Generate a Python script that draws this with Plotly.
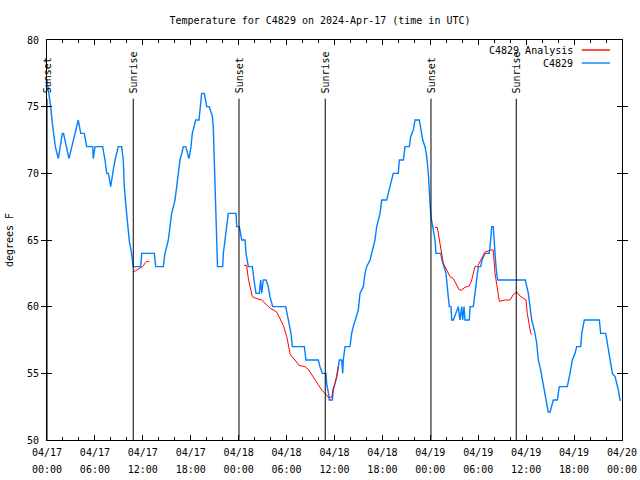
import plotly.graph_objects as go

# ---- data (hours since 2024-04-17 00:00 UTC, temperature in F) ----
obs_hours = [0.0, 0.25, 0.46, 0.66, 0.88, 1.04, 1.42, 1.92, 2.07, 2.75, 3.92, 4.22, 4.67, 4.97,
             5.72, 5.80, 6.01, 6.97, 7.26, 7.48, 7.68, 7.98, 8.23, 8.52, 8.93, 9.35, 9.55, 9.68,
             9.89, 10.11, 10.31, 10.52, 10.73, 10.81, 11.73, 11.86, 13.44, 13.61, 14.56, 14.78,
             15.19, 15.40, 15.61, 15.82, 16.03, 16.24, 16.44, 16.65, 16.87, 17.07, 17.37, 17.78,
             18.03, 18.19, 18.41, 18.62, 19.03, 19.16, 19.32, 19.37, 19.70, 19.87, 20.00, 20.32,
             20.54, 20.70, 20.82, 20.91, 21.04, 21.16, 21.33, 21.35, 22.00, 22.08, 22.29, 22.50,
             22.70, 23.67, 23.75, 24.08, 24.23, 24.39, 24.80, 24.92, 25.21, 25.71, 25.92, 26.17,
             26.58, 26.76, 26.88, 27.08, 27.42, 27.71, 27.92, 28.26, 29.89, 30.14, 30.34, 30.55,
             30.72, 32.22, 32.43, 33.97, 34.18, 34.47, 34.94, 35.02, 35.22, 35.35, 35.73, 35.85,
             36.06, 36.28, 36.48, 36.60, 36.90, 37.03, 37.10, 37.32, 37.94, 38.15, 38.35, 38.57,
             38.98, 39.19, 39.61, 39.82, 40.03, 40.45, 40.66, 40.86, 41.07, 41.28, 41.49, 41.70,
             41.91, 42.54, 42.74, 42.95, 43.36, 43.99, 44.11, 44.62, 44.83, 45.37, 45.54, 45.87,
             46.08, 46.62, 46.80, 47.05, 47.33, 47.55, 47.75, 47.83, 47.96, 48.08, 48.30, 48.59,
             48.71, 49.30, 49.50, 49.71, 49.96, 50.12, 50.30, 50.37, 50.59, 50.68, 50.88, 51.21,
             51.50, 51.71, 51.93, 52.05, 52.22, 52.34, 52.88, 52.97, 53.38, 53.59, 53.81, 54.01,
             54.31, 54.47, 54.85, 55.38, 55.56, 55.68, 55.88, 56.01, 56.19, 56.31, 56.44, 59.89,
             60.07, 60.27, 60.48, 60.69, 60.90, 61.11, 61.32, 61.52, 61.73, 61.95, 62.24, 62.48,
             62.77, 62.99, 63.20, 63.40, 63.90, 64.15, 65.15, 65.28, 65.49, 65.78, 66.12, 66.33,
             66.83, 66.96, 67.16, 67.28, 69.16, 69.33, 69.96, 70.17, 70.42, 70.63, 70.79, 71.13,
             71.34, 71.54, 71.75, 71.88]
obs_temps = [77, 76, 75, 73.8, 72.5, 72, 71.1, 73, 73, 71.1, 74, 73, 73, 72,
             72, 71.1, 72, 72, 71, 70, 70, 69, 70, 71, 72, 72, 71, 69,
             67.5, 66, 64.9, 64.25, 63.1, 63, 63, 64, 64, 63, 63, 64,
             65, 66.25, 67, 67.5, 68, 69, 70, 71, 71.5, 72, 72, 71.1,
             72, 73, 73.5, 74, 74, 74.9, 75.5, 76, 76, 75.5, 75, 75,
             74.6, 74.3, 73.5, 71.5, 68.5, 66, 64, 63, 63, 64, 65, 66.3,
             67, 67, 66, 66, 65.5, 65, 65, 64, 63, 63, 62, 61,
             61, 62, 61, 62, 62, 61.5, 60.75, 60, 60, 59.25, 58.5, 58,
             57, 57, 56, 56, 55.5, 55, 55, 54.25, 53.6, 53, 53, 53.75,
             54.25, 54.75, 55.5, 56, 56, 55, 56, 57, 57, 58, 58.5, 59,
             59.75, 61, 61.5, 62.5, 63, 63.5, 64, 64.5, 65, 66, 66.5, 67,
             68, 68, 68.5, 69, 70, 70, 71, 71, 72, 72, 72.75, 73.25,
             74, 74, 73.25, 72.5, 72, 71.25, 70, 68.5, 67.75, 66.75, 66, 65,
             64, 64, 63.4, 63, 62.5, 61.5, 60.5, 60, 60, 59, 59, 59.5,
             60, 59, 60, 59, 60, 59, 59, 60, 60, 61, 62, 63,
             63, 63.5, 64, 64, 65, 66, 66, 64.5, 63.25, 62.5, 62, 62,
             61.5, 61, 60, 59, 58.5, 58, 57.25, 56, 55.5, 54.75, 53.75, 53,
             52.1, 52.1, 52.6, 53, 53, 54, 54, 54.5, 55, 56, 56.5, 57,
             57, 58, 58.75, 59, 59, 58, 58, 57.25, 56.5, 55.75, 55, 54.75,
             54.25, 53.75, 53, 53]

# analysis series (None separates the three runs)
ana_hours = [10.81, 11.23, 11.65, 11.98, 12.27, 12.48, 12.81, None,
             24.67, 25.00, 25.21, 25.42, 25.71, 26.26, 26.88, 27.30, 27.92, 28.76, 29.18,
             29.59, 30.02, 30.22, 30.43, 30.64, 31.06, 31.56, 32.31, 32.72, 33.15, 33.56,
             33.97, 34.40, 34.81, 35.22, 35.65, 35.85, 36.06, 36.28, 36.48, None,
             48.59, 48.87, 49.00, 49.21, 49.42, 49.62, 50.05, 50.46, 50.88, 51.30, 51.63,
             51.93, 52.34, 52.88, 53.18, 53.38, 53.59, 53.88, 54.35, 54.85, 55.56, 55.88,
             56.10, 56.38, 56.64, 57.35, 57.98, 58.39, 58.82, 59.23, 59.73, 59.98, 60.14,
             60.39, 60.57, 60.77]
ana_temps = [62.6, 62.75, 62.9, 63.0, 63.25, 63.4, 63.4, None,
             63.1, 63.1, 62.1, 61.5, 60.75, 60.6, 60.5, 60.25, 59.9, 59.6, 59.1,
             58.6, 57.75, 57.25, 56.5, 56.25, 56.0, 55.6, 55.5, 55.3, 54.9, 54.5,
             54.1, 53.75, 53.5, 53.2, 53.2, 53.9, 54.25, 54.75, 55.5, None,
             65.95, 65.95, 65.5, 64.75, 64.0, 63.25, 62.75, 62.25, 62.1, 61.6, 61.25,
             61.25, 61.45, 61.55, 62.0, 62.5, 63.0, 63.0, 63.5, 64.1, 64.25, 64.25,
             62.5, 61.25, 60.4, 60.5, 60.5, 60.9, 61.1, 60.8, 60.6, 60.5, 59.5,
             58.75, 58.0, 57.9]

sun_hours = [0.0, 10.8, 24.04, 34.84, 48.08, 58.76]
sun_labels = ["Sunset", "Sunrise", "Sunset", "Sunrise", "Sunset", "Sunrise"]
sun_line_top = 75.6
sun_label_base = 75.85

tick_hours = [0, 6, 12, 18, 24, 30, 36, 42, 48, 54, 60, 66, 72]
tick_dates = ["04/17", "04/17", "04/17", "04/17", "04/18", "04/18", "04/18", "04/18",
              "04/19", "04/19", "04/19", "04/19", "04/20"]
tick_times = ["00:00", "06:00", "12:00", "18:00", "00:00", "06:00", "12:00", "18:00",
              "00:00", "06:00", "12:00", "18:00", "00:00"]
y_ticks = [50, 55, 60, 65, 70, 75, 80]

series_names = ["C4829 Analysis", "C4829"]
series_colors = ["#ff0000", "#0080ff"]

FONT = dict(family="DejaVu Sans Mono", size=10, color="black")

fig = go.Figure()
fig.add_trace(go.Scatter(x=ana_hours, y=ana_temps, mode="lines", name=series_names[0],
                         line=dict(color=series_colors[0], width=1), connectgaps=False,
                         showlegend=False, xaxis="x2"))
fig.add_trace(go.Scatter(x=obs_hours, y=obs_temps, mode="lines", name=series_names[1],
                         line=dict(color=series_colors[1], width=1.4), showlegend=False))

shapes = []
annotations = []
for h, lab in zip(sun_hours, sun_labels):
    shapes.append(dict(type="line", xref="x", yref="y", x0=h, x1=h, y0=50, y1=sun_line_top,
                       line=dict(color="black", width=1)))
    annotations.append(dict(x=h, y=sun_label_base, xref="x", yref="y", text=lab,
                            textangle=-90, showarrow=False, xanchor="center",
                            yanchor="bottom", font=FONT))

# gnuplot-style key (text right-aligned, sample on the right)
key_rows = [0.975, 0.9425]
for name, col, ky in zip(series_names, series_colors, key_rows):
    annotations.append(dict(x=0.9175, y=ky, xref="paper", yref="paper", text=name,
                            showarrow=False, xanchor="right", yanchor="middle", font=FONT))
    shapes.append(dict(type="line", xref="paper", yref="paper", x0=0.930, x1=0.979,
                       y0=ky, y1=ky, line=dict(color=col, width=1.4)))

# y-axis title
annotations.append(dict(x=-0.066, y=0.5, xref="paper", yref="paper", text="degrees F",
                        textangle=-90, showarrow=False, xanchor="center", yanchor="middle",
                        font=FONT))

fig.update_layout(
    width=640, height=480,
    margin=dict(l=47, r=18, t=40, b=40, autoexpand=False),
    paper_bgcolor="white", plot_bgcolor="white",
    font=FONT,
    title=dict(text="Temperature for C4829 on 2024-Apr-17 (time in UTC)", x=0.5, xanchor="center",
               y=1 - 20 / 480, yref="container", yanchor="middle", font=FONT, automargin=False),
    shapes=shapes, annotations=annotations,
    showlegend=False,
)
fig.update_layout(
    xaxis=dict(range=[0, 72], tickmode="array", tickvals=tick_hours, ticktext=tick_dates,
               ticks="inside", ticklen=5, tickcolor="black", showgrid=False, zeroline=False,
               showline=True, linecolor="black", linewidth=1, mirror="allticks",
               minor=dict(dtick=2, tick0=0, ticks="inside", ticklen=3, tickcolor="black",
                          showgrid=False),
               tickfont=FONT, automargin=False, ticklabelstandoff=3),
    xaxis2=dict(matches="x", overlaying="x", side="bottom", tickmode="array",
                tickvals=tick_hours, ticktext=tick_times, ticks="", showgrid=False,
                zeroline=False, showline=False, tickfont=FONT, automargin=False,
                ticklabelstandoff=22),
    yaxis=dict(range=[50, 80], tickmode="array", tickvals=y_ticks,
               ticks="inside", ticklen=5, tickcolor="black", showgrid=False, zeroline=False,
               showline=True, linecolor="black", linewidth=1, mirror="allticks",
               tickfont=FONT, automargin=False, ticklabelstandoff=5),
)

fig.write_html("out.html", config={"displayModeBar": False},
               post_script="document.body.style.margin='0';document.body.style.padding='0';")
